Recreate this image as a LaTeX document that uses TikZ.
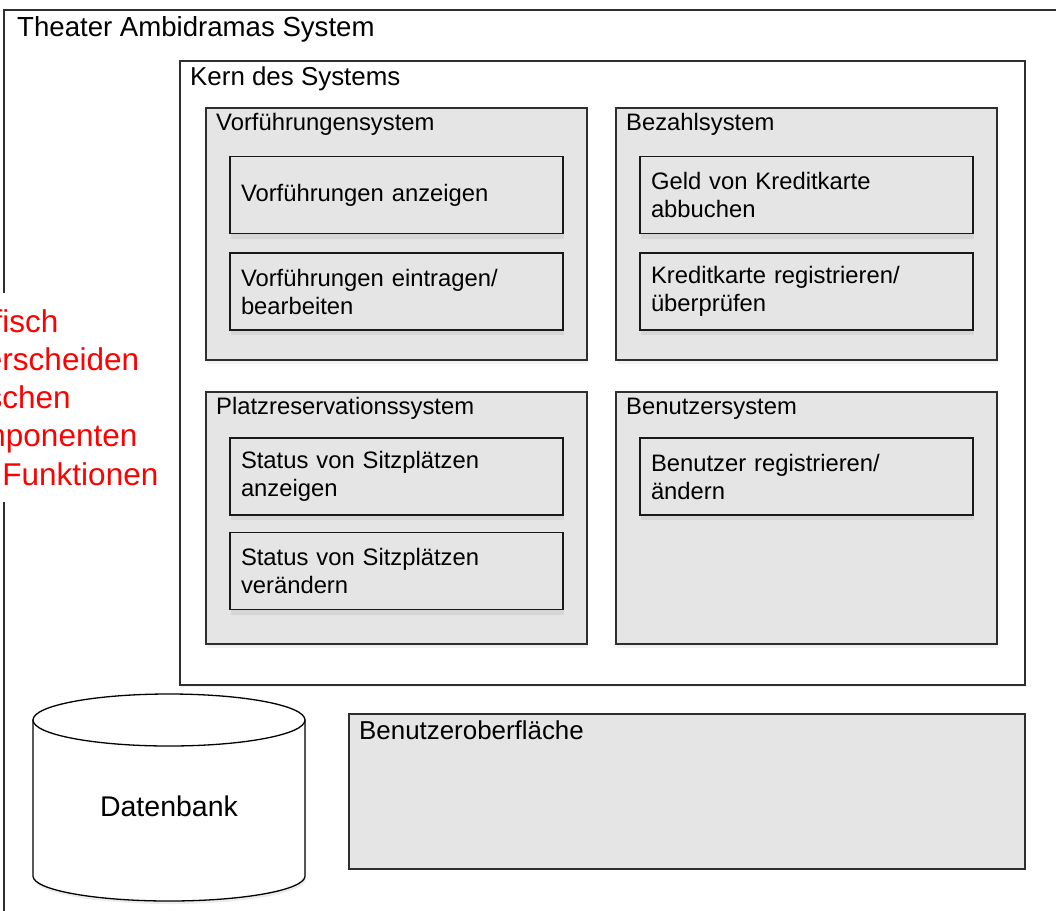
\documentclass[tikz,border=0pt]{standalone}
\usepackage{fontspec}
\setmainfont{Liberation Sans}
\usetikzlibrary{positioning, shadows}

\definecolor{boxgray}{HTML}{E5E5E5}
\definecolor{edgegray}{HTML}{2E2E2E}
\definecolor{notered}{HTML}{FF0000}

\tikzset{
  sysframe/.style={draw=edgegray, line width=1.8pt, fill=white},
  subsys/.style={draw=edgegray, line width=1.6pt, fill=boxgray, minimum width=381pt, minimum height=252pt,
    drop shadow={opacity=0.10, shadow xshift=1pt, shadow yshift=-4pt}},
  funcbox/.style={draw=black!90, line width=1.6pt, fill=boxgray, minimum width=333pt, minimum height=77pt,
    text width=311pt, inner xsep=11pt, inner ysep=0pt, align=left, font=\fontsize{23.8}{28}\selectfont,
    drop shadow={opacity=0.14, shadow xshift=1pt, shadow yshift=-5pt}},
  boxtitle/.style={anchor=base west, inner sep=0pt, font=\fontsize{23.8}{28}\selectfont},
  bigtitle/.style={anchor=base west, inner sep=0pt, font=\fontsize{25.9}{30}\selectfont},
}

\begin{document}
\begin{tikzpicture}[x=1pt, y=-1pt]
		\useasboundingbox (0,0) rectangle (1056,910);
		\clip (0,0) rectangle (1056,910);
		
		%//outer frame
		\draw[sysframe, line width=2pt, drop shadow={opacity=0.15, shadow xshift=1pt, shadow yshift=-2pt}] (4,10) rectangle (1080,940);
		\node[anchor=base west, inner sep=0pt, font=\fontsize{27.6}{32}\selectfont] (theater) at (17,36) {Theater Ambidramas System};
		
		%//core
		\node[sysframe, minimum width=845pt, minimum height=624pt, drop shadow={opacity=0.10, shadow xshift=1pt, shadow yshift=-2pt}] (kern) at (602.5,373) {};
		\node[bigtitle] (kerntitle) at (190,85) {Kern des Systems};
		
		\foreach \cx/\cy/\nm/\txt in {396.5/234/vsys/Vorführungensystem, 806.5/234/bsys/Bezahlsystem,
			396.5/518/psys/Platzreservationssystem, 806.5/518/usys/Benutzersystem}
		{
			\node[subsys] (\nm) at (\cx,\cy) {};
			\node[boxtitle] (\nm-title) at (\cx-180.5,\cy-104) {\txt};
		}
		
		\foreach \cx/\cy/\nm/\txt in {396.5/195/vanz/{Vorführungen anzeigen},
			396.5/291.5/vein/{Vorführungen eintragen/\\bearbeiten},
			806.5/195/gabb/{Geld von Kreditkarte\\abbuchen},
			806.5/291.5/kreg/{Kreditkarte registrieren/\\überprüfen},
			396.5/476.5/sanz/{Status von Sitzplätzen\\anzeigen},
			396.5/571/sver/{Status von Sitzplätzen\\verändern},
			806.5/476.5/breg/{Benutzer registrieren/\\ändern}}
		\node[funcbox] (\nm) at (\cx,\cy) {\txt};
		
		%//user interface
		\node[draw=edgegray, line width=1.6pt, fill=boxgray, minimum width=676pt, minimum height=155pt] (gui) at (687,791.5) {};
		\node[bigtitle] (guititle) at (359,739) {Benutzeroberfläche};
		
		%//database
		\draw[draw=black, line width=1.3pt, fill=white, drop shadow={opacity=0.15, shadow xshift=1pt, shadow yshift=-3pt}]
			(33,720) -- (33,876) arc[start angle=180, end angle=0, x radius=136, y radius=25] -- (305,720) -- cycle;
		\draw[draw=black, line width=1.3pt, fill=white] (169,720) ellipse [x radius=136, y radius=26];
		\node[font=\fontsize{28.5}{32}\selectfont] (db) at (169,806) {Datenbank};
		
		%//note
		\node[anchor=north west, fill=white, text=notered, inner xsep=0pt, inner ysep=16pt, align=left,
			font=\fontsize{31.5}{38.3}\selectfont] (note) at (-59,293)
			{Grafisch\\unterscheiden\\zwischen\\Komponenten\\und Funktionen};
\end{tikzpicture}
\end{document}
